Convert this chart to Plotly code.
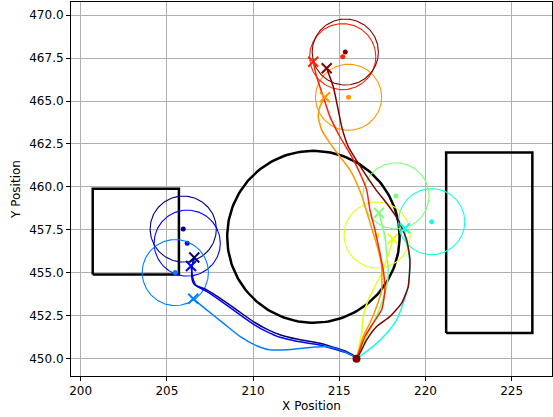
import numpy as np
import plotly.graph_objects as go

# ---------------- data ----------------
start_x, start_y = [216.0], [450.0]

colors = ["rgb(0,0,127)", "rgb(0,0,255)", "rgb(0,127,255)", "rgb(21,255,226)",
          "rgb(124,255,121)", "rgb(226,255,21)", "rgb(255,151,0)", "rgb(255,33,0)",
          "rgb(127,0,0)"]

goal_x = [205.95, 206.18, 205.49, 220.36, 218.29, 217.20, 215.54, 215.20, 215.35]
goal_y = [457.55, 456.73, 455.02, 457.98, 459.48, 457.20, 465.22, 467.58, 467.85]
goal_r = 1.92

end_x = [206.59, 206.40, 206.53, 218.81, 217.30, 218.10, 214.17, 213.49, 214.27]
end_y = [455.89, 455.40, 453.49, 457.60, 458.49, 456.98, 465.22, 467.28, 466.91]

navy_x = [216.0, 215.91, 215.43, 214.65, 213.88, 212.53, 211.56, 210.79, 210.01, 209.05, 208.08, 207.31, 206.63, 206.50, 206.44, 206.51, 206.59]
navy_y = [450.0, 450.13, 450.42, 450.68, 450.91, 451.15, 451.40, 451.73, 452.17, 452.85, 453.53, 454.01, 454.30, 454.49, 455.08, 455.64, 455.89]

blue_x = [216.0, 215.91, 215.43, 214.65, 213.88, 212.53, 211.56, 210.79, 210.01, 209.05, 208.08, 207.31, 206.70, 206.55, 206.45, 206.40]
blue_y = [450.0, 450.10, 450.35, 450.58, 450.80, 451.02, 451.25, 451.58, 452.02, 452.70, 453.40, 453.92, 454.25, 454.55, 455.05, 455.40]

dblue_x = [216.0, 215.91, 215.04, 214.27, 213.49, 212.33, 210.98, 210.21, 209.24, 208.27, 207.31, 206.53]
dblue_y = [450.0, 450.10, 450.52, 450.72, 450.68, 450.56, 450.52, 450.76, 451.30, 452.08, 452.85, 453.49]

cyan_x = [216.0, 216.97, 217.75, 218.33, 218.71, 219.00, 219.10, 219.00, 218.81, 218.81]
cyan_y = [450.0, 450.72, 451.49, 452.27, 453.24, 454.20, 455.37, 456.34, 457.11, 457.60]

green_x = [216.0, 216.68, 217.07, 217.46, 217.75, 217.84, 217.75, 217.65, 217.46, 217.30]
green_y = [450.0, 451.49, 452.27, 453.24, 454.20, 455.17, 456.15, 457.11, 457.89, 458.49]

yellow_x = [216.0, 216.30, 216.39, 216.68, 217.07, 217.46, 217.75, 217.94, 218.10]
yellow_y = [450.0, 451.49, 452.46, 453.43, 454.20, 454.98, 455.76, 456.34, 456.98]

orange_x = [216.0, 216.39, 216.78, 217.17, 217.46, 217.46, 217.26, 216.97, 216.68, 216.35, 216.01, 215.62, 215.04, 214.46, 213.98, 213.78, 213.88, 214.17]
orange_y = [450.0, 451.30, 452.08, 453.04, 454.01, 455.37, 456.34, 457.31, 458.27, 459.36, 460.22, 460.99, 461.76, 462.55, 463.32, 464.09, 464.67, 465.22]

red_x = [216.0, 216.49, 216.97, 217.46, 217.65, 217.55, 217.32, 217.07, 216.78, 216.59, 216.20, 215.72, 215.04, 214.46, 214.07, 213.69, 213.49]
red_y = [450.0, 451.30, 452.08, 452.85, 454.01, 455.17, 456.34, 457.50, 458.66, 459.83, 460.80, 461.76, 462.92, 464.09, 465.25, 466.41, 467.28]

dred_x = [216.0, 216.20, 216.59, 217.17, 217.94, 218.62, 219.00, 219.10, 218.91, 218.42, 217.75, 217.13, 216.10, 215.52, 215.14, 214.94, 214.65, 214.27]
dred_y = [450.0, 450.33, 451.10, 451.88, 452.46, 453.24, 454.20, 455.76, 456.92, 458.08, 459.05, 459.83, 461.38, 462.35, 463.51, 464.48, 465.84, 466.91]

traj_x = [navy_x, blue_x, dblue_x, cyan_x, green_x, yellow_x, orange_x, red_x, dred_x]
traj_y = [navy_y, blue_y, dblue_y, cyan_y, green_y, yellow_y, orange_y, red_y, dred_y]

# obstacles
obs_circle = (213.5, 457.1, 5.0)          # cx, cy, r
rect_left = (200.7, 205.7, 454.9, 459.9)  # x0, x1, y0, y1
rect_right = (221.2, 226.2, 451.5, 462.0)

x_ticks = [200, 205, 210, 215, 220, 225]
y_ticks = [450.0, 452.5, 455.0, 457.5, 460.0, 462.5, 465.0, 467.5, 470.0]

# ---------------- figure ----------------
fig = go.Figure()
theta = np.linspace(0, 2 * np.pi, 181)

# obstacles
cx, cy, r = obs_circle
fig.add_trace(go.Scatter(x=cx + r * np.cos(theta), y=cy + r * np.sin(theta), mode="lines",
                         line=dict(color="black", width=2.5), hoverinfo="skip"))
for (x0, x1, y0, y1) in (rect_left, rect_right):
    fig.add_trace(go.Scatter(x=[x0, x1, x1, x0, x0], y=[y0, y0, y1, y1, y0], mode="lines",
                             line=dict(color="black", width=2.5), hoverinfo="skip"))

# goal circles and dots
for gx, gy, c in zip(goal_x, goal_y, colors):
    fig.add_trace(go.Scatter(x=gx + goal_r * np.cos(theta), y=gy + goal_r * np.sin(theta),
                             mode="lines", line=dict(color=c, width=1.1), hoverinfo="skip"))
    fig.add_trace(go.Scatter(x=[gx], y=[gy], mode="markers",
                             marker=dict(color=c, size=5, line=dict(width=0))))

# trajectories
for tx, ty, c in zip(traj_x, traj_y, colors):
    fig.add_trace(go.Scatter(x=tx, y=ty, mode="lines", line=dict(color=c, width=1.5, shape="spline", smoothing=0.5)))

# end markers
for ex, ey, c in zip(end_x, end_y, colors):
    fig.add_trace(go.Scatter(x=[ex], y=[ey], mode="markers",
                             marker=dict(symbol="x-thin", size=10, line=dict(color=c, width=2))))

# start marker
fig.add_trace(go.Scatter(x=start_x, y=start_y, mode="markers",
                         marker=dict(color="rgb(127,0,0)", size=8, line=dict(width=0))))

axis_common = dict(showgrid=True, gridcolor="#b0b0b0", gridwidth=0.8, zeroline=False,
                   showline=True, linecolor="black", linewidth=1, mirror=True,
                   ticks="outside", ticklen=4, tickcolor="black", tickwidth=1,
                   automargin=False,
                   tickfont=dict(family="DejaVu Sans", size=12, color="black"))

fig.update_layout(
    width=553, height=417,
    margin=dict(l=71, r=1, t=2, b=41),
    paper_bgcolor="white", plot_bgcolor="white",
    showlegend=False,
    xaxis=dict(range=[199.44, 227.34], tickvals=x_ticks,
               title=dict(text="X Position", font=dict(family="DejaVu Sans", size=12, color="black"), standoff=4),
               **axis_common),
    yaxis=dict(range=[449.0, 470.76], tickvals=y_ticks, tickformat=".1f",
               title=dict(text="Y Position", font=dict(family="DejaVu Sans", size=12, color="black"), standoff=6),
               **axis_common),
)

fig.write_html("out.html", config={"displayModeBar": False},
               post_script="document.body.style.margin='0';document.body.style.overflow='hidden';")
